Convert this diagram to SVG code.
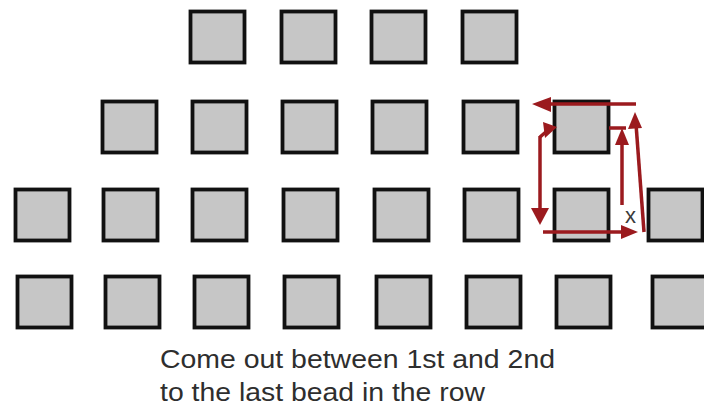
<svg xmlns="http://www.w3.org/2000/svg" width="704" height="408" viewBox="0 0 704 408">
<style>
.b{fill:#c6c6c6;stroke:#111;stroke-width:3.8}
.r{stroke:#9b1a1e;stroke-width:3.5;fill:none}
.h{fill:#9b1a1e}
.t{font-family:"Liberation Sans",Arial,sans-serif;font-size:25px;fill:#2e2e2e}
</style>
<rect width="704" height="408" fill="#fff"/>
<g id="row1">
<g id="b1-1"><rect class="b" x="190.5" y="11.5" width="54" height="51"/></g>
<g id="b1-2"><rect class="b" x="281.5" y="11.5" width="54" height="51"/></g>
<g id="b1-3"><rect class="b" x="371.5" y="11.5" width="54" height="51"/></g>
<g id="b1-4"><rect class="b" x="462.5" y="11.5" width="54" height="51"/></g>
</g>
<g id="row2">
<g id="b2-1"><rect class="b" x="102.5" y="101.5" width="54" height="51"/></g>
<g id="b2-2"><rect class="b" x="192.5" y="101.5" width="54" height="51"/></g>
<g id="b2-3"><rect class="b" x="282.5" y="101.5" width="54" height="51"/></g>
<g id="b2-4"><rect class="b" x="372.5" y="101.5" width="54" height="51"/></g>
<g id="b2-5"><rect class="b" x="463.5" y="101.5" width="54" height="51"/></g>
<g id="b2-6"><rect class="b" x="554.5" y="101.5" width="54" height="51"/></g>
</g>
<g id="row3">
<g id="b3-1"><rect class="b" x="15.5" y="189.5" width="54" height="51"/></g>
<g id="b3-2"><rect class="b" x="103.5" y="189.5" width="54" height="51"/></g>
<g id="b3-3"><rect class="b" x="192.5" y="189.5" width="54" height="51"/></g>
<g id="b3-4"><rect class="b" x="283.5" y="189.5" width="54" height="51"/></g>
<g id="b3-5"><rect class="b" x="374.5" y="189.5" width="54" height="51"/></g>
<g id="b3-6"><rect class="b" x="464.5" y="189.5" width="54" height="51"/></g>
<g id="b3-7"><rect class="b" x="554.5" y="189.5" width="54" height="51"/></g>
<g id="b3-8"><rect class="b" x="648.5" y="189.5" width="54" height="51"/></g>
</g>
<g id="row4">
<g id="b4-1"><rect class="b" x="17.5" y="276.5" width="54" height="51"/></g>
<g id="b4-2"><rect class="b" x="105.5" y="276.5" width="54" height="51"/></g>
<g id="b4-3"><rect class="b" x="194.5" y="276.5" width="54" height="51"/></g>
<g id="b4-4"><rect class="b" x="284.5" y="276.5" width="54" height="51"/></g>
<g id="b4-5"><rect class="b" x="376.5" y="276.5" width="54" height="51"/></g>
<g id="b4-6"><rect class="b" x="466.5" y="276.5" width="54" height="51"/></g>
<g id="b4-7"><rect class="b" x="556.5" y="276.5" width="54" height="51"/></g>
<g id="b4-8"><rect class="b" x="652.5" y="276.5" width="54" height="51"/></g>
</g>
<g id="connectors">
<line class="r" x1="622" y1="205" x2="622" y2="140"/>
<polygon class="h" points="622,128 629,145 615,145"/>
<line class="r" x1="609" y1="128" x2="626" y2="128"/>
<line class="r" x1="644" y1="232" x2="636" y2="124"/>
<polygon class="h" points="635,112 642,128 628,129"/>
<line class="r" x1="636" y1="104" x2="548" y2="104"/>
<polygon class="h" points="532,104 551,97 551,112"/>
<line class="r" x1="540" y1="212" x2="540" y2="136"/>
<path class="r" d="M540,137 L547,131"/>
<polygon class="h" points="557,127 543,122 545,138"/>
<polygon class="h" points="540,225 531,208 549,208"/>
<line class="r" x1="543" y1="232" x2="624" y2="232"/>
<polygon class="h" points="638,232 621,225 621,239"/>
</g>
<text class="t" x="625" y="223" style="font-size:22px;fill:#3a3a3a">x</text>
<text class="t" x="160" y="368" textLength="395" lengthAdjust="spacingAndGlyphs">Come out between 1st and 2nd</text>
<text class="t" x="160" y="401" textLength="325" lengthAdjust="spacingAndGlyphs">to the last bead in the row</text>
</svg>
